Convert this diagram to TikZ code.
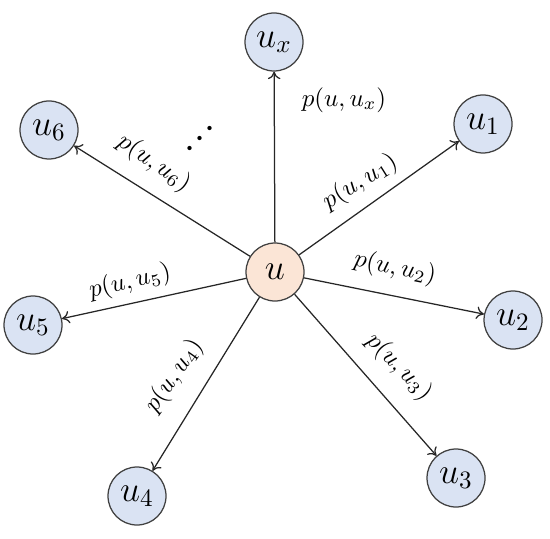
\documentclass[tikz,border=0pt]{standalone}
\usepackage{amsmath,amssymb,bm}
\usetikzlibrary{arrows.meta}
\definecolor{nodeblue}{HTML}{DAE3F3}
\definecolor{nodepeach}{HTML}{FBE5D6}
\definecolor{rimgray}{HTML}{404040}
\definecolor{linegray}{HTML}{262626}
\begin{document}
\begin{tikzpicture}[x=0.4pt,y=-0.4pt,
  vert/.style={circle,draw=rimgray,line width=0.5pt,fill=nodeblue,minimum size=23.2pt,inner sep=0pt,font=\fontsize{14.5}{16}\selectfont},
  hub/.style={vert,fill=nodepeach},
  wlabel/.style={inner sep=0pt,font=\fontsize{9.6}{11}\selectfont},
  link/.style={draw=linegray,line width=0.5pt,-{To[length=3pt,width=5pt]}}]
\useasboundingbox (0,0) rectangle (550,538);
\node[hub]  (u)  at (275,272) {$u$};
\node[vert] (ux) at (274,42)  {$u_x$};
\node[vert] (u1) at (483,124) {$u_1$};
\node[vert] (u2) at (513,320) {$u_2$};
\node[vert] (u3) at (456,478) {$u_3$};
\node[vert] (u4) at (137,496) {$u_4$};
\node[vert] (u5) at (33,325)  {$u_5$};
\node[vert] (u6) at (49,130)  {$u_6$};
\foreach \t in {ux,u1,u2,u3,u4,u5,u6} \draw[link] (u) -- (\t);
\node[wlabel] (lx) at (344,100) {$p(u,u_x)$};
\node[wlabel,rotate=32] (l1) at (360,182) {$p(u,u_1)$};
\node[wlabel,rotate=-11.5] (l2) at (395,268) {$p(u,u_2)$};
\node[wlabel,rotate=-46] (l3) at (399,367) {$p(u,u_3)$};
\node[wlabel,rotate=55] (l4) at (174,376) {$p(u,u_4)$};
\node[wlabel,rotate=13] (l5) at (130,282) {$p(u,u_5)$};
\node[wlabel,rotate=-35] (l6) at (154,163) {$p(u,u_6)$};
\node[inner sep=0pt,rotate=43,font=\fontsize{11}{13}\selectfont] (dots) at (202,137) {$\bm{\cdots}$};
\end{tikzpicture}
\end{document}
